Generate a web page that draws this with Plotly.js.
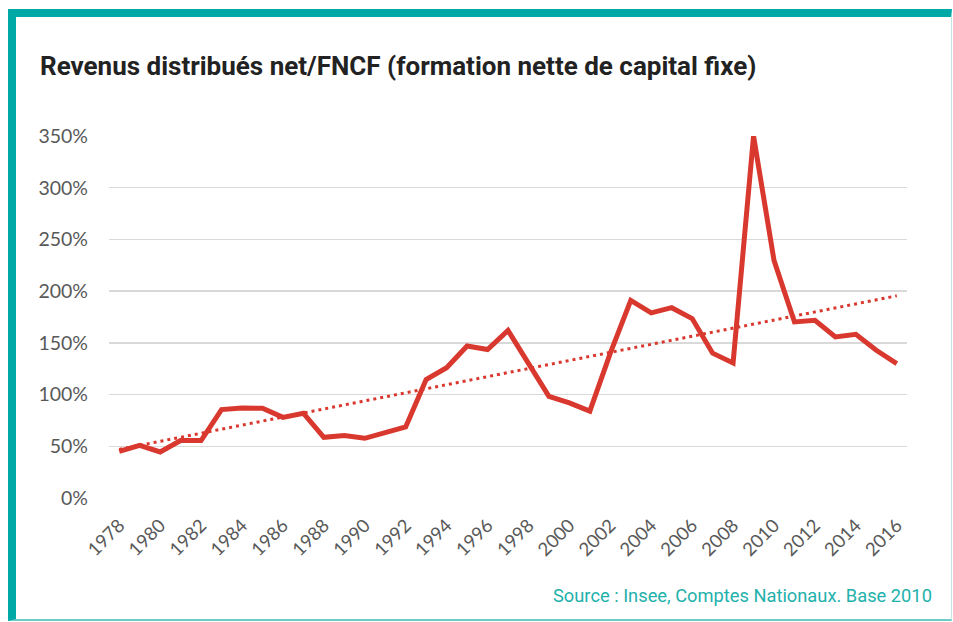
<!DOCTYPE html>
<html>
<head>
<meta charset="utf-8">
<script src="https://cdn.plot.ly/plotly-3.0.1.min.js"></script>
<style>
  html, body { margin: 0; padding: 0; background: #ffffff; }
  #wrap { position: relative; width: 953px; height: 622px; overflow: hidden; }
  #chart { position: absolute; left: 0; top: 0; width: 953px; height: 622px; }
  #frame { position: absolute; left: 8px; top: 9px; width: 935px; height: 602px;
           border-top: 8px solid #00a9a5; border-left: 8px solid #00a9a5;
           border-right: 1px solid #bfe6e4; border-bottom: 2px solid #6fcac6;
           pointer-events: none; }
</style>
</head>
<body>
<div id="wrap">
  <div id="chart"></div>
  <div id="frame"></div>
</div>
<script>
// Data
const years = [1978,1979,1980,1981,1982,1983,1984,1985,1986,1987,1988,1989,1990,1991,1992,1993,1994,1995,1996,1997,1998,1999,2000,2001,2002,2003,2004,2005,2006,2007,2008,2009,2010,2011,2012,2013,2014,2015,2016];
const ratio = [45,51,44.5,55.5,55.5,85.5,87,86.7,78,82,58.7,60.3,57.7,63.5,68.7,114.5,126,147,143.5,162,130,98.3,92,84,140,191,179,184,173.5,140,130.5,350,229.8,170.2,171.8,155.7,158.3,142.8,130];
const trendYears = [1978, 2016];
const trendValues = [47, 195.5];
const yTickVals = [0,50,100,150,200,250,300,350];
const xTickVals = [1978,1980,1982,1984,1986,1988,1990,1992,1994,1996,1998,2000,2002,2004,2006,2008,2010,2012,2014,2016];

const red = '#d9382f';

const traces = [
  { x: trendYears, y: trendValues, type: 'scatter', mode: 'lines',
    line: { color: red, width: 3, dash: '3px,4px' }, hoverinfo: 'skip' },
  { x: years, y: ratio, type: 'scatter', mode: 'lines',
    line: { color: red, width: 5, shape: 'linear' } }
];

const layout = {
  width: 953, height: 622,
  margin: { l: 109, r: 46, t: 136, b: 124 },
  paper_bgcolor: '#ffffff', plot_bgcolor: '#ffffff',
  showlegend: false,
  title: {
    text: 'Revenus distribués net/FNCF (formation nette de capital fixe)',
    font: { family: 'Roboto, sans-serif', size: 26, color: '#222222', weight: 700 },
    xref: 'container', yref: 'container',
    x: 40/953, xanchor: 'left',
    y: 1 - 66/622, yanchor: 'middle'
  },
  xaxis: {
    type: 'linear',
    range: [1977.5, 2016.5],
    tickmode: 'array', tickvals: xTickVals, ticktext: xTickVals.map(String),
    tickangle: -45,
    showgrid: false, zeroline: false, showline: false, ticks: '',
    ticklabelstandoff: 12,
    tickfont: { family: 'Lato, sans-serif', size: 18.5, color: '#595959' },
    fixedrange: true
  },
  yaxis: {
    range: [0, 350],
    tickmode: 'array', tickvals: yTickVals, ticktext: yTickVals.map(v => v + '%'),
    showgrid: true, gridcolor: '#d9d9d9', gridwidth: 1.5,
    zeroline: false, showline: false, ticks: '',
    ticklabelstandoff: 20,
    tickfont: { family: 'Lato, sans-serif', size: 19.5, color: '#595959' },
    fixedrange: true
  },
  annotations: [{
    text: 'Source : Insee, Comptes Nationaux. Base 2010',
    xref: 'paper', yref: 'paper',
    x: (934 - 109) / 798, xanchor: 'right',
    y: (498 - 595) / 362, yanchor: 'middle',
    showarrow: false,
    font: { family: 'Roboto, sans-serif', size: 18.3, color: '#22b1ab' }
  }]
};

Plotly.newPlot('chart', traces, layout, { displayModeBar: false, staticPlot: true });
</script>
</body>
</html>
